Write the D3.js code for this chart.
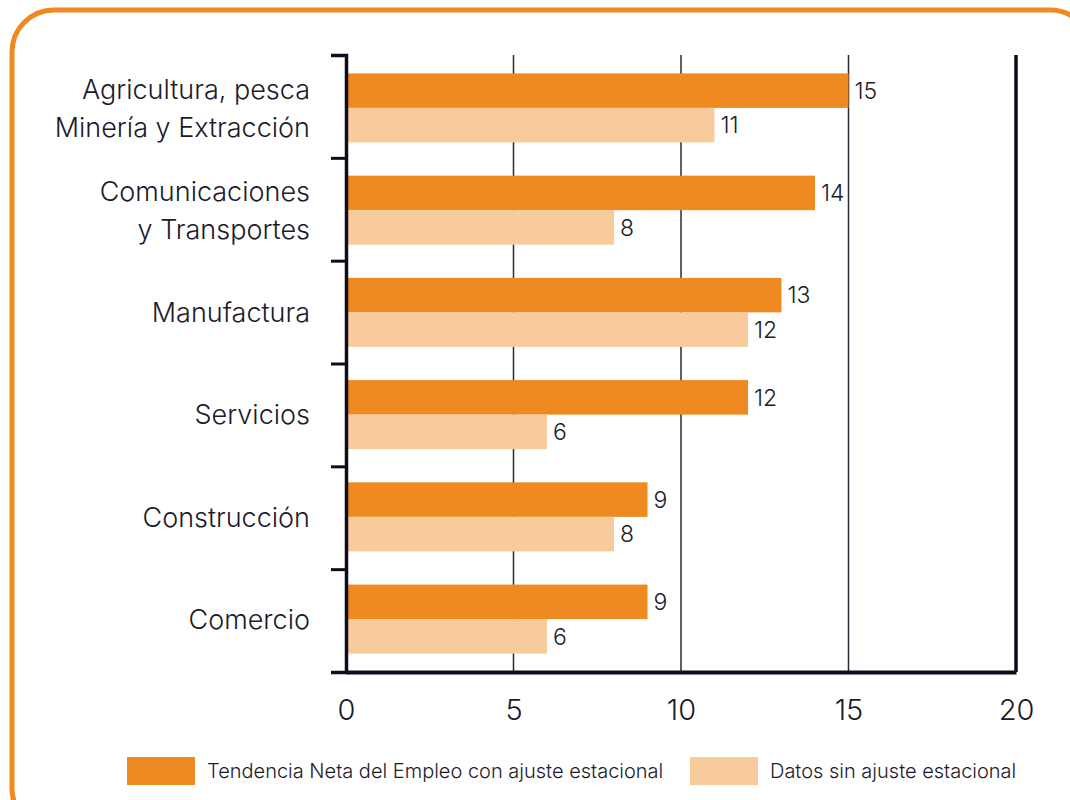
<!DOCTYPE html>
<html><head><meta charset="utf-8">
<script src="https://cdn.jsdelivr.net/npm/d3@7"></script>
<style>
html,body{margin:0;padding:0;background:#fff;}
svg{display:block;font-family:"Inter","Liberation Sans",Arial,sans-serif;font-weight:300;}
</style></head>
<body>
<svg id="chart" width="1070" height="800"></svg>
<script>
const categories = [
  ["Agricultura, pesca","Minería y Extracción"],
  ["Comunicaciones","y Transportes"],
  ["Manufactura"],
  ["Servicios"],
  ["Construcción"],
  ["Comercio"]
];
const seriesNames = ["Tendencia Neta del Empleo con ajuste estacional","Datos sin ajuste estacional"];
const seriesColors = ["#EE8A1F","#F8CB9D"];
const conAjuste = [15,14,13,12,9,9];
const sinAjuste = [11,8,12,6,8,6];
const xTicks = [0,5,10,15,20];

(function(){
const svg = d3.select("#chart");
const textColor = "#1b1b2b";

// frame
svg.append("rect").attr("x",12).attr("y",10).attr("width",1080).attr("height",820)
  .attr("rx",42).attr("fill","none").attr("stroke","#EE8A1F").attr("stroke-width",5);

const pL = 346, pR = 1016, pT = 55, pB = 672;
const x = d3.scaleLinear().domain([0,20]).range([pL,pR]);
const keys = categories.map((c,i)=>i);
const y = d3.scaleBand().domain(keys).range([pT,pB]).paddingInner(0.325).paddingOuter(0.18);
const ySub = d3.scaleBand().domain([0,1]).range([0,y.bandwidth()]);

// gridlines
const g = svg.append("g");
xTicks.filter(t=>t>0).forEach(t=>{
  g.append("line").attr("x1",x(t)).attr("x2",x(t)).attr("y1",pT).attr("y2",pB)
   .attr("stroke", t===20 ? "#0d0d1e" : "#2a2a38").attr("stroke-width", t===20 ? 3.5 : 1.5);
});

// bars
const data = keys.map(i=>({i, vals:[conAjuste[i], sinAjuste[i]]}));
const grp = svg.append("g").selectAll("g").data(data).join("g")
  .attr("transform", d=>`translate(0,${y(d.i)})`);
grp.selectAll("rect").data(d=>d.vals.map((v,s)=>({v,s}))).join("rect")
  .attr("x", x(0)).attr("y", d=>ySub(d.s)).attr("width", d=>x(d.v)-x(0)).attr("height", ySub.bandwidth())
  .attr("fill", d=>seriesColors[d.s]);
grp.selectAll("text").data(d=>d.vals.map((v,s)=>({v,s}))).join("text")
  .attr("x", d=>x(d.v)+6).attr("y", d=>ySub(d.s)+ySub.bandwidth()/2)
  .attr("dy","0.36em").attr("font-size",23).attr("fill",textColor).text(d=>d.v);

// left axis with tick separators
const yBound = d3.scaleLinear().domain([0,categories.length]).range([pT,pB]);
const leftAxis = d3.axisLeft(yBound).tickValues(d3.range(0,categories.length)).tickSize(15).tickFormat("");
svg.append("g").attr("transform",`translate(${pL},0)`).call(leftAxis)
  .call(a=>a.select(".domain").attr("stroke","#0d0d1e").attr("stroke-width",3.5))
  .call(a=>a.selectAll(".tick line").attr("stroke","#0d0d1e").attr("stroke-width",3));

// bottom axis
const bottomAxis = d3.axisBottom(x).tickValues(xTicks).tickSize(0).tickPadding(27);
svg.append("g").attr("transform",`translate(0,${pB})`).call(bottomAxis)
  .call(a=>a.select(".domain").attr("stroke","#0d0d1e").attr("stroke-width",4))
  .call(a=>a.selectAll(".tick text").attr("font-size",29).attr("fill",textColor)
     .attr("font-family","Inter, Liberation Sans, Arial, sans-serif").attr("font-weight",300));

// category labels
const cat = svg.append("g");
categories.forEach((lines,i)=>{
  const cy = y(i)+y.bandwidth()/2;
  const lh = 38;
  const y0 = cy - (lines.length-1)*lh/2;
  lines.forEach((ln,j)=>{
    cat.append("text").attr("x",310).attr("y",y0+j*lh).attr("dy","0.36em")
      .attr("text-anchor","end").attr("font-size",27).attr("fill",textColor)
      .attr("letter-spacing","0").text(ln);
  });
});

// legend
const leg = svg.append("g");
const legX = [127, 690];
seriesNames.forEach((n,s)=>{
  leg.append("rect").attr("x",legX[s]).attr("y",757).attr("width",68).attr("height",28).attr("fill",seriesColors[s]);
  leg.append("text").attr("x",legX[s]+80).attr("y",771).attr("dy","0.36em")
    .attr("font-size",20).attr("fill",textColor).text(n);
});
})();
</script>
</body></html>
